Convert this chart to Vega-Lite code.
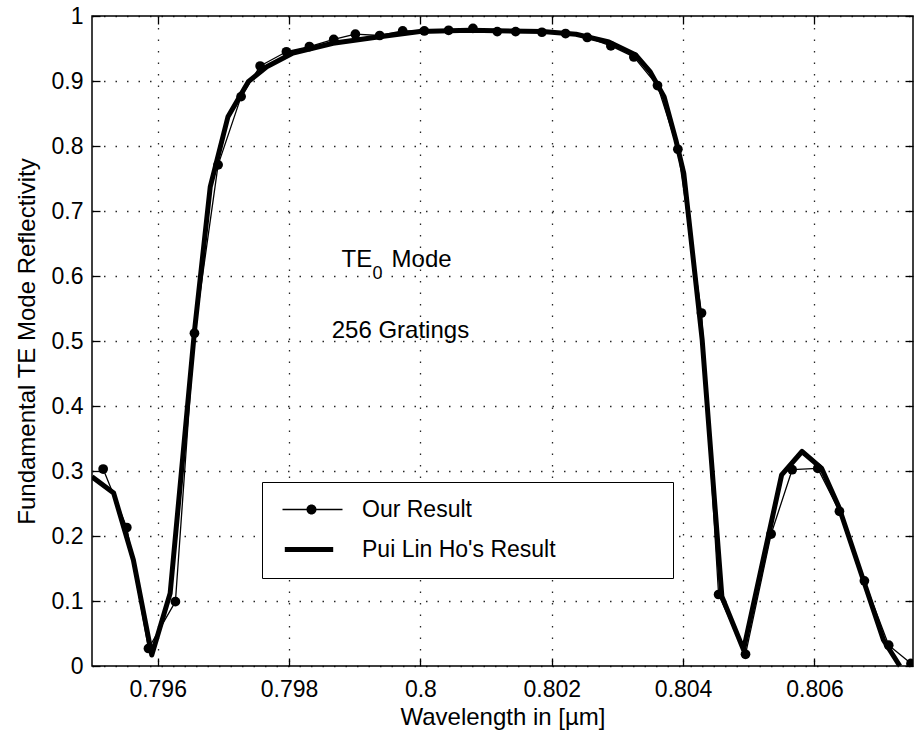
{
  "$schema": "https://vega.github.io/schema/vega-lite/v6.json",
  "width": 821,
  "height": 650,
  "autosize": {"type": "none"},
  "padding": {"left": 92, "top": 16, "right": 1, "bottom": 69},
  "background": "white",
  "config": {
    "font": "Liberation Sans",
    "view": {"stroke": "black", "strokeWidth": 1.5},
    "axis": {
      "domain": false,
      "labelFont": "Liberation Sans",
      "labelFontSize": 23,
      "labelColor": "black",
      "titleFont": "Liberation Sans",
      "titleFontSize": 24,
      "titleFontWeight": "normal",
      "titleColor": "black",
      "tickColor": "black",
      "tickSize": -8,
      "tickWidth": 1.3,
      "gridColor": "black",
      "gridDash": [1.5, 10],
      "gridWidth": 1.3,
      "gridOpacity": 0.85
    }
  },
  "datasets": {
    "curves": [
      {"series": "Pui Lin Ho's Result", "wavelength": 0.79500, "reflectivity": 0.291},
      {"series": "Pui Lin Ho's Result", "wavelength": 0.79533, "reflectivity": 0.266},
      {"series": "Pui Lin Ho's Result", "wavelength": 0.79563, "reflectivity": 0.163},
      {"series": "Pui Lin Ho's Result", "wavelength": 0.79591, "reflectivity": 0.017},
      {"series": "Pui Lin Ho's Result", "wavelength": 0.79619, "reflectivity": 0.112},
      {"series": "Pui Lin Ho's Result", "wavelength": 0.79656, "reflectivity": 0.515},
      {"series": "Pui Lin Ho's Result", "wavelength": 0.79680, "reflectivity": 0.737},
      {"series": "Pui Lin Ho's Result", "wavelength": 0.79707, "reflectivity": 0.845},
      {"series": "Pui Lin Ho's Result", "wavelength": 0.79738, "reflectivity": 0.899},
      {"series": "Pui Lin Ho's Result", "wavelength": 0.79766, "reflectivity": 0.922},
      {"series": "Pui Lin Ho's Result", "wavelength": 0.79806, "reflectivity": 0.943},
      {"series": "Pui Lin Ho's Result", "wavelength": 0.79867, "reflectivity": 0.958},
      {"series": "Pui Lin Ho's Result", "wavelength": 0.79938, "reflectivity": 0.968},
      {"series": "Pui Lin Ho's Result", "wavelength": 0.79999, "reflectivity": 0.976},
      {"series": "Pui Lin Ho's Result", "wavelength": 0.80075, "reflectivity": 0.978},
      {"series": "Pui Lin Ho's Result", "wavelength": 0.80186, "reflectivity": 0.976},
      {"series": "Pui Lin Ho's Result", "wavelength": 0.80237, "reflectivity": 0.972},
      {"series": "Pui Lin Ho's Result", "wavelength": 0.80287, "reflectivity": 0.960},
      {"series": "Pui Lin Ho's Result", "wavelength": 0.80328, "reflectivity": 0.940},
      {"series": "Pui Lin Ho's Result", "wavelength": 0.80350, "reflectivity": 0.914},
      {"series": "Pui Lin Ho's Result", "wavelength": 0.80371, "reflectivity": 0.876},
      {"series": "Pui Lin Ho's Result", "wavelength": 0.80389, "reflectivity": 0.809},
      {"series": "Pui Lin Ho's Result", "wavelength": 0.80401, "reflectivity": 0.758},
      {"series": "Pui Lin Ho's Result", "wavelength": 0.80429, "reflectivity": 0.502},
      {"series": "Pui Lin Ho's Result", "wavelength": 0.80459, "reflectivity": 0.107},
      {"series": "Pui Lin Ho's Result", "wavelength": 0.80492, "reflectivity": 0.025},
      {"series": "Pui Lin Ho's Result", "wavelength": 0.80550, "reflectivity": 0.294},
      {"series": "Pui Lin Ho's Result", "wavelength": 0.80581, "reflectivity": 0.330},
      {"series": "Pui Lin Ho's Result", "wavelength": 0.80611, "reflectivity": 0.304},
      {"series": "Pui Lin Ho's Result", "wavelength": 0.80637, "reflectivity": 0.245},
      {"series": "Pui Lin Ho's Result", "wavelength": 0.80705, "reflectivity": 0.040},
      {"series": "Pui Lin Ho's Result", "wavelength": 0.80730, "reflectivity": 0.000},
      {"series": "Our Result", "wavelength": 0.79517, "reflectivity": 0.303},
      {"series": "Our Result", "wavelength": 0.79553, "reflectivity": 0.213},
      {"series": "Our Result", "wavelength": 0.79586, "reflectivity": 0.027},
      {"series": "Our Result", "wavelength": 0.79627, "reflectivity": 0.099},
      {"series": "Our Result", "wavelength": 0.79656, "reflectivity": 0.512},
      {"series": "Our Result", "wavelength": 0.79692, "reflectivity": 0.771},
      {"series": "Our Result", "wavelength": 0.79727, "reflectivity": 0.876},
      {"series": "Our Result", "wavelength": 0.79756, "reflectivity": 0.923},
      {"series": "Our Result", "wavelength": 0.79796, "reflectivity": 0.945},
      {"series": "Our Result", "wavelength": 0.79831, "reflectivity": 0.953},
      {"series": "Our Result", "wavelength": 0.79868, "reflectivity": 0.964},
      {"series": "Our Result", "wavelength": 0.79901, "reflectivity": 0.972},
      {"series": "Our Result", "wavelength": 0.79938, "reflectivity": 0.970},
      {"series": "Our Result", "wavelength": 0.79973, "reflectivity": 0.977},
      {"series": "Our Result", "wavelength": 0.80006, "reflectivity": 0.977},
      {"series": "Our Result", "wavelength": 0.80043, "reflectivity": 0.978},
      {"series": "Our Result", "wavelength": 0.80080, "reflectivity": 0.981},
      {"series": "Our Result", "wavelength": 0.80117, "reflectivity": 0.976},
      {"series": "Our Result", "wavelength": 0.80145, "reflectivity": 0.976},
      {"series": "Our Result", "wavelength": 0.80185, "reflectivity": 0.975},
      {"series": "Our Result", "wavelength": 0.80221, "reflectivity": 0.973},
      {"series": "Our Result", "wavelength": 0.80254, "reflectivity": 0.967},
      {"series": "Our Result", "wavelength": 0.80290, "reflectivity": 0.954},
      {"series": "Our Result", "wavelength": 0.80325, "reflectivity": 0.937},
      {"series": "Our Result", "wavelength": 0.80361, "reflectivity": 0.893},
      {"series": "Our Result", "wavelength": 0.80392, "reflectivity": 0.795},
      {"series": "Our Result", "wavelength": 0.80428, "reflectivity": 0.543},
      {"series": "Our Result", "wavelength": 0.80454, "reflectivity": 0.110},
      {"series": "Our Result", "wavelength": 0.80495, "reflectivity": 0.018},
      {"series": "Our Result", "wavelength": 0.80534, "reflectivity": 0.203},
      {"series": "Our Result", "wavelength": 0.80566, "reflectivity": 0.302},
      {"series": "Our Result", "wavelength": 0.80605, "reflectivity": 0.304},
      {"series": "Our Result", "wavelength": 0.80638, "reflectivity": 0.238},
      {"series": "Our Result", "wavelength": 0.80676, "reflectivity": 0.131},
      {"series": "Our Result", "wavelength": 0.80713, "reflectivity": 0.032},
      {"series": "Our Result", "wavelength": 0.80747, "reflectivity": 0.004}
    ],
    "labels": [{"id": 1}]
  },
  "resolve": {"axis": {"x": "independent", "y": "independent"}},
  "layer": [
    {
      "data": {"name": "curves"},
      "mark": {"type": "line", "color": "black", "clip": true, "strokeJoin": "round"},
      "encoding": {
        "x": {
          "field": "wavelength", "type": "quantitative",
          "scale": {"domain": [0.795, 0.8075], "nice": false, "zero": false},
          "axis": {
            "orient": "bottom",
            "title": "Wavelength in [µm]",
            "values": [0.796, 0.798, 0.8, 0.802, 0.804, 0.806],
            "format": ".3~f",
            "labelPadding": 20,
            "titlePadding": 4,
            "grid": true
          }
        },
        "y": {
          "field": "reflectivity", "type": "quantitative",
          "scale": {"domain": [0, 1], "nice": false},
          "axis": {
            "orient": "left",
            "title": "Fundamental TE Mode Reflectivity",
            "values": [0, 0.1, 0.2, 0.3, 0.4, 0.5, 0.6, 0.7, 0.8, 0.9, 1],
            "format": ".1~f",
            "labelPadding": 17,
            "titlePadding": 12,
            "grid": true
          }
        },
        "strokeWidth": {
          "field": "series", "type": "nominal",
          "scale": {"type": "ordinal", "domain": ["Pui Lin Ho's Result", "Our Result"], "range": [5, 1.3]},
          "legend": null
        }
      }
    },
    {
      "data": {"name": "curves"},
      "transform": [{"filter": "datum.series === 'Our Result'"}],
      "mark": {"type": "point", "filled": true, "color": "black", "size": 95, "opacity": 1, "clip": true},
      "encoding": {
        "x": {
          "field": "wavelength", "type": "quantitative",
          "axis": {"orient": "top", "values": [0.796, 0.798, 0.8, 0.802, 0.804, 0.806], "labels": false, "title": null, "grid": false}
        },
        "y": {
          "field": "reflectivity", "type": "quantitative",
          "axis": {"orient": "right", "values": [0, 0.1, 0.2, 0.3, 0.4, 0.5, 0.6, 0.7, 0.8, 0.9, 1], "labels": false, "title": null, "grid": false}
        }
      }
    },
    {
      "data": {"name": "curves"},
      "transform": [{"filter": "datum.series === 'legend only'"}],
      "mark": {"type": "point", "filled": true, "fill": "black", "opacity": 1},
      "encoding": {
        "x": {"field": "wavelength", "type": "quantitative", "axis": null},
        "y": {"field": "reflectivity", "type": "quantitative", "axis": null},
        "shape": {
          "field": "series", "type": "nominal",
          "scale": {
            "domain": ["Our Result", "Pui Lin Ho's Result"],
            "range": ["M-0.7,-0.065H5.3V0.065H-0.7ZM2.7,0A0.5,0.5 0 1,1 1.7,0A0.5,0.5 0 1,1 2.7,0Z", "M-0.47,-0.25H4.37V0.25H-0.47Z"]
          },
          "legend": {
            "orient": "none",
            "legendX": 170,
            "legendY": 466,
            "direction": "vertical",
            "strokeColor": "black",
            "fillColor": "white",
            "padding": 16,
            "rowPadding": 16,
            "labelOffset": 61,
            "labelFont": "Liberation Sans",
            "labelFontSize": 23,
            "labelColor": "black",
            "labelLimit": 400,
            "symbolSize": 400,
            "symbolFillColor": "black",
            "symbolStrokeWidth": 0,
            "symbolOpacity": 1,
            "title": " ",
            "titleOrient": "right",
            "titlePadding": 101,
            "titleFontSize": 10
          }
        }
      }
    },
    {
      "data": {"name": "labels"},
      "mark": {"type": "text", "text": "TE", "fontSize": 24, "align": "left", "baseline": "alphabetic", "color": "black"},
      "encoding": {
        "x": {"datum": 0.7988, "axis": null},
        "y": {"datum": 0.6138, "axis": null}
      }
    },
    {
      "data": {"name": "labels"},
      "mark": {"type": "text", "text": "0", "fontSize": 18, "align": "left", "baseline": "alphabetic", "dx": 31, "dy": 12, "color": "black"},
      "encoding": {
        "x": {"datum": 0.7988, "axis": null},
        "y": {"datum": 0.6138, "axis": null}
      }
    },
    {
      "data": {"name": "labels"},
      "mark": {"type": "text", "text": "Mode", "fontSize": 24, "align": "left", "baseline": "alphabetic", "dx": 50, "color": "black"},
      "encoding": {
        "x": {"datum": 0.7988, "axis": null},
        "y": {"datum": 0.6138, "axis": null}
      }
    },
    {
      "data": {"name": "labels"},
      "mark": {"type": "text", "text": "256 Gratings", "fontSize": 24, "align": "left", "baseline": "alphabetic", "color": "black"},
      "encoding": {
        "x": {"datum": 0.79865, "axis": null},
        "y": {"datum": 0.5046, "axis": null}
      }
    }
  ]
}
